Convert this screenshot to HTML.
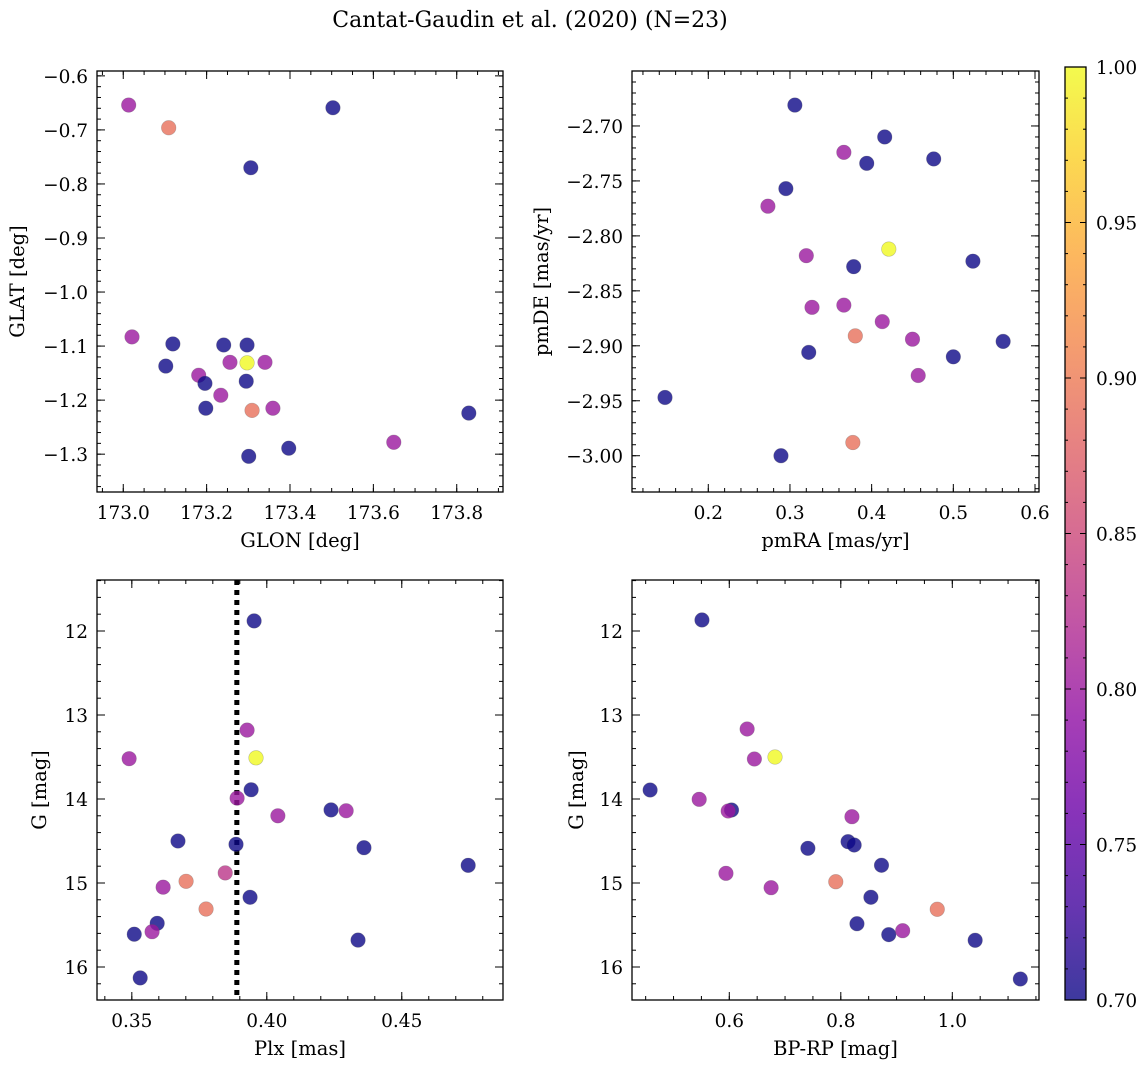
<!DOCTYPE html>
<html><head><meta charset="utf-8"><style>
html,body{margin:0;padding:0;background:#fff;}
svg{display:block;font-family:"DejaVu Serif","Liberation Serif",serif;}
</style></head><body>
<svg id="fig" width="1148" height="1067" viewBox="0 0 1148 1067" xmlns="http://www.w3.org/2000/svg">
<defs>
<linearGradient id="plasma" x1="0" y1="1" x2="0" y2="0">
<stop offset="0" stop-color="#0d0887"/><stop offset="0.1" stop-color="#41049d"/><stop offset="0.2" stop-color="#6a00a8"/><stop offset="0.3" stop-color="#8f0da4"/><stop offset="0.4" stop-color="#b12a90"/><stop offset="0.5" stop-color="#cc4778"/><stop offset="0.6" stop-color="#e16462"/><stop offset="0.7" stop-color="#f2844b"/><stop offset="0.8" stop-color="#fca636"/><stop offset="0.9" stop-color="#fcce25"/><stop offset="1" stop-color="#f0f921"/>
</linearGradient>
</defs>
<text x="530" y="27" font-size="22" text-anchor="middle">Cantat-Gaudin et al. (2020) (N=23)</text>
</svg>
<script>
// ---------- data ----------
const glon = [173.013,173.109,173.503,173.306,173.021,173.119,173.102,173.241,173.297,173.256,173.340,173.297,173.181,173.196,173.295,173.234,173.198,173.309,173.359,173.301,173.397,173.649,173.829];
const glat = [-0.654,-0.696,-0.659,-0.770,-1.083,-1.096,-1.137,-1.098,-1.098,-1.130,-1.130,-1.131,-1.154,-1.169,-1.165,-1.191,-1.215,-1.219,-1.215,-1.304,-1.289,-1.278,-1.224];
const cPos = [0.80,0.89,0.70,0.70,0.80,0.70,0.70,0.70,0.70,0.80,0.80,1.00,0.80,0.70,0.70,0.80,0.70,0.89,0.80,0.70,0.70,0.80,0.70];

const pmra = [0.306,0.416,0.366,0.394,0.476,0.295,0.273,0.421,0.320,0.378,0.524,0.327,0.366,0.413,0.380,0.450,0.561,0.323,0.500,0.457,0.147,0.377,0.289];
const pmde = [-2.681,-2.710,-2.724,-2.734,-2.730,-2.757,-2.773,-2.812,-2.818,-2.828,-2.823,-2.865,-2.863,-2.878,-2.891,-2.894,-2.896,-2.906,-2.910,-2.927,-2.947,-2.988,-3.000];
const cPm = [0.70,0.70,0.80,0.70,0.70,0.70,0.80,1.00,0.80,0.70,0.70,0.80,0.80,0.80,0.89,0.80,0.70,0.70,0.70,0.80,0.70,0.89,0.70];

const plx = [0.3953,0.3927,0.3960,0.3490,0.3942,0.3890,0.4041,0.4238,0.4294,0.3671,0.3886,0.4360,0.4746,0.3846,0.3701,0.3616,0.3775,0.3938,0.3594,0.3575,0.3509,0.4338,0.3531];
const gPlx = [11.88,13.18,13.51,13.52,13.89,13.99,14.20,14.13,14.14,14.50,14.54,14.58,14.79,14.88,14.98,15.05,15.31,15.17,15.48,15.58,15.61,15.68,16.13];
const cPlx = [0.70,0.80,1.00,0.80,0.70,0.80,0.80,0.70,0.80,0.70,0.70,0.70,0.70,0.83,0.89,0.80,0.89,0.70,0.70,0.80,0.70,0.70,0.70];
const plxLine = 0.3889;

const bprp = [0.458,0.546,0.604,0.598,0.820,0.813,0.824,0.741,0.873,0.594,0.675,0.791,0.854,0.973,0.829,0.886,0.911,1.041,1.122,0.551,0.632,0.645,0.682];
const gCmd = [13.893,14.004,14.131,14.143,14.211,14.508,14.548,14.587,14.789,14.885,15.056,14.985,15.170,15.313,15.485,15.615,15.568,15.682,16.143,11.869,13.167,13.524,13.500];
const cCmd = [0.70,0.80,0.70,0.80,0.80,0.70,0.70,0.70,0.70,0.80,0.80,0.89,0.70,0.89,0.70,0.70,0.80,0.70,0.70,0.70,0.80,0.80,1.00];

const t1x=[173.0,173.2,173.4,173.6,173.8], t1xl=["173.0","173.2","173.4","173.6","173.8"];
const t1y=[-0.6,-0.7,-0.8,-0.9,-1.0,-1.1,-1.2,-1.3], t1yl=["−0.6","−0.7","−0.8","−0.9","−1.0","−1.1","−1.2","−1.3"];
const t2x=[0.2,0.3,0.4,0.5,0.6], t2xl=["0.2","0.3","0.4","0.5","0.6"];
const t2y=[-2.70,-2.75,-2.80,-2.85,-2.90,-2.95,-3.00], t2yl=["−2.70","−2.75","−2.80","−2.85","−2.90","−2.95","−3.00"];
const t3x=[0.35,0.40,0.45], t3xl=["0.35","0.40","0.45"];
const tGy=[12,13,14,15,16], tGyl=["12","13","14","15","16"];
const t4x=[0.6,0.8,1.0], t4xl=["0.6","0.8","1.0"];
const tCb=[0.70,0.75,0.80,0.85,0.90,0.95,1.00], tCbl=["0.70","0.75","0.80","0.85","0.90","0.95","1.00"];

// ---------- helpers ----------
const NS="http://www.w3.org/2000/svg";
const svg=document.getElementById('fig');
function mk(tag,attrs,parent){const e=document.createElementNS(NS,tag);for(const k in attrs)e.setAttribute(k,attrs[k]);(parent||svg).appendChild(e);return e;}
const stops=[[0,[13,8,135]],[0.1,[65,4,157]],[0.2,[106,0,168]],[0.3,[143,13,164]],[0.4,[177,42,144]],[0.5,[204,71,120]],[0.6,[225,100,98]],[0.7,[242,132,75]],[0.8,[252,166,54]],[0.9,[252,206,37]],[1,[240,249,33]]];
function plasma(v){let t=(v-0.7)/0.3;t=Math.max(0,Math.min(1,t));for(let i=1;i<stops.length;i++){if(t<=stops[i][0]){const a=stops[i-1],b=stops[i];const f=(t-a[0])/(b[0]-a[0]);const c=a[1].map((x,j)=>Math.round(x+(b[1][j]-x)*f));return `rgb(${c[0]},${c[1]},${c[2]})`;}}return 'rgb(240,249,33)';}

const TF=18.5, LF=19.5;
function panel(cfg){
  const g=mk('g',{});
  
  
  const {x0,y0,x1,y1}=cfg;
  const sx=v=>x0+(v-cfg.xmin)/(cfg.xmax-cfg.xmin)*(x1-x0);
  const sy=cfg.invert? (v=>y0+(v-cfg.ymin)/(cfg.ymax-cfg.ymin)*(y1-y0)) : (v=>y1-(v-cfg.ymin)/(cfg.ymax-cfg.ymin)*(y1-y0));
  const tg=mk('g',{stroke:'#000','stroke-width':1},g);
  
  
  const lo=Math.min(cfg.xmin,cfg.xmax),hi=Math.max(cfg.xmin,cfg.xmax);
  for(let k=Math.ceil(lo/cfg.xminor-1e-6);k*cfg.xminor<=hi+1e-9;k++){const px=sx(k*cfg.xminor);if(px<x0||px>x1)continue;mk('line',{x1:px,y1:y1,x2:px,y2:y1-4},tg);mk('line',{x1:px,y1:y0,x2:px,y2:y0+4},tg);}
  const ylo=Math.min(cfg.ymin,cfg.ymax),yhi=Math.max(cfg.ymin,cfg.ymax);
  for(let k=Math.ceil(ylo/cfg.yminor-1e-6);k*cfg.yminor<=yhi+1e-9;k++){const py=sy(k*cfg.yminor);if(py<y0||py>y1)continue;mk('line',{x1:x0,y1:py,x2:x0+4,y2:py},tg);mk('line',{x1:x1,y1:py,x2:x1-4,y2:py},tg);}
  cfg.xt.forEach((v,i)=>{const px=sx(v);if(px<x0-0.5||px>x1+0.5)return;mk('line',{x1:px,y1:y1,x2:px,y2:y1-8},tg);mk('line',{x1:px,y1:y0,x2:px,y2:y0+8},tg);
    const t=mk('text',{x:px,y:y1+27,'font-size':TF,'text-anchor':'middle'},g);t.textContent=cfg.xtl[i];
    
    });
  cfg.yt.forEach((v,i)=>{const py=sy(v);if(py<y0-0.5||py>y1+0.5)return;mk('line',{x1:x0,y1:py,x2:x0+8,y2:py},tg);mk('line',{x1:x1,y1:py,x2:x1-8,y2:py},tg);
    const t=mk('text',{x:x0-9,y:py+7,'font-size':TF,'text-anchor':'end'},g);t.textContent=cfg.ytl[i];
    
    });
  if(cfg.vline!==undefined){const l=mk('line',{x1:sx(cfg.vline),y1:y0,x2:sx(cfg.vline),y2:y1,stroke:'#000','stroke-width':5,'stroke-dasharray':'5 5'},g);
    
    }
  const pg=mk('g',{},g);
  
  
  cfg.xs.forEach((v,i)=>{const c=mk('circle',{cx:sx(v),cy:sy(cfg.ys[i]),r:7.3,fill:plasma(cfg.cs[i]),'fill-opacity':0.8,stroke:'#555','stroke-opacity':0.35,'stroke-width':0.6},pg);
    
    });
  const fr=mk('rect',{x:x0,y:y0,width:x1-x0,height:y1-y0,fill:'none',stroke:'#000','stroke-width':1.3},g);
  
  
  const xl=mk('text',{x:(x0+x1)/2,y:y1+55,'font-size':LF,'text-anchor':'middle'},g);xl.textContent=cfg.xlabel;
  
  
  const yc=(y0+y1)/2;
  const yl=mk('text',{x:cfg.ylx,y:yc,'font-size':LF,'text-anchor':'middle',transform:`rotate(-90 ${cfg.ylx} ${yc})`},g);yl.textContent=cfg.ylabel;
  
  
}

panel({name:'position-panel',x0:97,y0:71,x1:503,y1:492,xmin:172.937,xmax:173.911,ymin:-1.370,ymax:-0.591,xminor:0.05,yminor:0.02,xt:t1x,xtl:t1xl,yt:t1y,ytl:t1yl,xs:glon,ys:glat,cs:cPos,xlabel:'GLON [deg]',ylabel:'GLAT [deg]',ylx:24});
panel({name:'proper-motion-panel',x0:632,y0:71,x1:1039,y1:492,xmin:0.1066,xmax:0.6049,ymin:-3.033,ymax:-2.650,xminor:0.02,yminor:0.01,xt:t2x,xtl:t2xl,yt:t2y,ytl:t2yl,xs:pmra,ys:pmde,cs:cPm,xlabel:'pmRA [mas/yr]',ylabel:'pmDE [mas/yr]',ylx:548});
panel({name:'parallax-panel',x0:97,y0:580,x1:503,y1:1000,xmin:0.3371,xmax:0.4875,ymin:11.393,ymax:16.393,invert:true,xminor:0.01,yminor:0.2,xt:t3x,xtl:t3xl,yt:tGy,ytl:tGyl,xs:plx,ys:gPlx,cs:cPlx,vline:plxLine,xlabel:'Plx [mas]',ylabel:'G [mag]',ylx:46});
panel({name:'cmd-panel',x0:632,y0:580,x1:1039,y1:1000,xmin:0.4255,xmax:1.1555,ymin:11.393,ymax:16.393,invert:true,xminor:0.05,yminor:0.2,xt:t4x,xtl:t4xl,yt:tGy,ytl:tGyl,xs:bprp,ys:gCmd,cs:cCmd,xlabel:'BP-RP [mag]',ylabel:'G [mag]',ylx:583});

// colorbar
const cb=mk('g',{});


const cbx=1065,cbw=21,cbt=67,cbb=1000;
mk('rect',{x:cbx,y:cbt,width:cbw,height:cbb-cbt,fill:'url(#plasma)','fill-opacity':0.8},cb);
const cby=v=>cbb-(v-0.7)/0.3*(cbb-cbt);
for(let k=70;k<=100;k++){const py=cby(k/100);mk('line',{x1:cbx,y1:py,x2:cbx+3,y2:py,stroke:'#000'},cb);mk('line',{x1:cbx+cbw,y1:py,x2:cbx+cbw-3,y2:py,stroke:'#000'},cb);}
tCb.forEach((v,i)=>{const py=cby(v);mk('line',{x1:cbx,y1:py,x2:cbx+6,y2:py,stroke:'#000'},cb);mk('line',{x1:cbx+cbw,y1:py,x2:cbx+cbw-6,y2:py,stroke:'#000'},cb);
  const t=mk('text',{x:cbx+cbw+10,y:py+7,'font-size':TF},cb);t.textContent=tCbl[i];
  
  });
mk('rect',{x:cbx,y:cbt,width:cbw,height:cbb-cbt,fill:'none',stroke:'#000','stroke-width':1.3},cb);
</script>
</body></html>
